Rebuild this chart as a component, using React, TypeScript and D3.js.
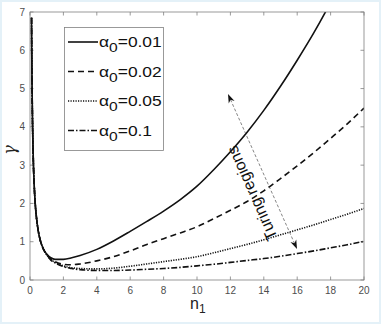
import React from 'react';
import * as d3 from 'd3';

// n1 sample points shared by all curves
const nValues = [0.09, 0.1, 0.12, 0.15, 0.2, 0.25, 0.3, 0.4, 0.5, 0.6, 0.8, 1, 1.25, 1.5, 2, 2.5, 3, 4, 5, 6, 7, 8, 9, 10, 11, 12, 13, 14, 15, 16, 17, 18, 19, 20];

// gamma for each alpha_0
const gamma001 = [6.85, 6.2, 5.2, 4.15, 3.1, 2.5, 2.08, 1.58, 1.27, 1.06, 0.81, 0.68, 0.58, 0.54, 0.54, 0.58, 0.64, 0.8, 1.02, 1.27, 1.53, 1.8, 2.1, 2.45, 2.88, 3.35, 3.86, 4.43, 5.06, 5.74, 6.46, 7.25, 8.1, 9.0];
const gamma002 = [6.85, 6.2, 5.2, 4.15, 3.1, 2.5, 2.08, 1.58, 1.27, 1.06, 0.81, 0.67, 0.55, 0.48, 0.41, 0.4, 0.42, 0.5, 0.61, 0.76, 0.93, 1.08, 1.23, 1.39, 1.6, 1.82, 2.05, 2.33, 2.65, 2.98, 3.33, 3.7, 4.08, 4.49];
const gamma005 = [6.85, 6.2, 5.2, 4.15, 3.1, 2.5, 2.08, 1.58, 1.27, 1.06, 0.81, 0.66, 0.53, 0.46, 0.37, 0.32, 0.3, 0.29, 0.31, 0.36, 0.42, 0.48, 0.54, 0.61, 0.71, 0.82, 0.93, 1.05, 1.18, 1.31, 1.44, 1.58, 1.72, 1.87];
const gamma01 = [6.85, 6.2, 5.2, 4.15, 3.1, 2.5, 2.08, 1.58, 1.27, 1.06, 0.81, 0.66, 0.52, 0.45, 0.35, 0.3, 0.27, 0.25, 0.25, 0.26, 0.28, 0.3, 0.33, 0.37, 0.41, 0.46, 0.51, 0.56, 0.62, 0.69, 0.76, 0.84, 0.92, 1.01];

const alphaLabels = ['0.01', '0.02', '0.05', '0.1'];
const dashes = ['', '6,4', '1.2,1.3', '6,2,1.5,2'];
const xTicks = [0, 2, 4, 6, 8, 10, 12, 14, 16, 18, 20];
const yTicks = [0, 1, 2, 3, 4, 5, 6, 7];

const W = 381;
const H = 324;
const margin = { top: 12, right: 17, bottom: 44, left: 30 };

export default function App() {
  const x = d3.scaleLinear().domain([0, 20]).range([margin.left, W - margin.right]);
  const y = d3.scaleLinear().domain([0, 7]).range([H - margin.bottom, margin.top]);
  const line = d3.line<number>()
    .x((_, i) => x(nValues[i]))
    .y(d => y(d))
    .curve(d3.curveMonotoneX);

  const series = [gamma001, gamma002, gamma005, gamma01];
  const x0 = x(0), x1 = x(20), y0 = y(0), y1 = y(7);
  const axisColor = '#808080';
  const font = 'Liberation Sans, Arial, Helvetica, sans-serif';

  // arrow for "Turing regions"
  const aTop: [number, number] = [228, 94];
  const aBot: [number, number] = [297, 249];
  const ang = Math.atan2(aBot[1] - aTop[1], aBot[0] - aTop[0]);
  const head = (p: [number, number], dir: number) => {
    const l = 9, w = 3.2;
    const ux = Math.cos(dir), uy = Math.sin(dir);
    const bx = p[0] - ux * l, by = p[1] - uy * l;
    return `M${p[0]},${p[1]} L${bx - uy * w},${by + ux * w} L${p[0] - ux * l * 0.7},${p[1] - uy * l * 0.7} L${bx + uy * w},${by - ux * w} Z`;
  };

  return (
    <svg width={W} height={H} style={{ position: 'absolute', left: 0, top: 0, background: '#fff' }} fontFamily={font}>
      <rect x={1} y={1} width={W - 2} height={H - 2} fill="none" stroke="#e4f1f8" strokeWidth={2} />
      <defs>
        <clipPath id="plot">
          <rect x={x0} y={y1} width={x1 - x0} height={y0 - y1} />
        </clipPath>
      </defs>

      {/* ticks on all four sides */}
      {xTicks.map(t => (
        <g key={'x' + t}>
          <line x1={x(t)} x2={x(t)} y1={y0} y2={y0 - 3.5} stroke={axisColor} strokeWidth={0.8} />
          <line x1={x(t)} x2={x(t)} y1={y1} y2={y1 + 3.5} stroke={axisColor} strokeWidth={0.8} />
          <text x={x(t)} y={y0 + 14} textAnchor="middle" fontSize={10} fill="#4d4d4d">{t}</text>
        </g>
      ))}
      {yTicks.map(t => (
        <g key={'y' + t}>
          <line x1={x0} x2={x0 + 3.5} y1={y(t)} y2={y(t)} stroke={axisColor} strokeWidth={0.8} />
          <line x1={x1} x2={x1 - 3.5} y1={y(t)} y2={y(t)} stroke={axisColor} strokeWidth={0.8} />
          <text x={x0 - 5} y={y(t) + 3.5} textAnchor="end" fontSize={10} fill="#4d4d4d">{t}</text>
        </g>
      ))}

      {/* curves */}
      <g clipPath="url(#plot)">
        {series.map((s, i) => (
          <path key={i} d={line(s) || ''} fill="none" stroke="#111" strokeWidth={1.6} strokeDasharray={dashes[i]} />
        ))}
      </g>

      <rect x={x0} y={y1} width={x1 - x0} height={y0 - y1} fill="none" stroke={axisColor} strokeWidth={0.8} />

      {/* legend */}
      <rect x={64.5} y={27.5} width={99} height={123} fill="#fff" stroke={axisColor} strokeWidth={0.8} />
      {alphaLabels.map((a, i) => {
        const ly = 42 + i * 29.5;
        return (
          <g key={a}>
            <line x1={68} x2={98} y1={ly} y2={ly} stroke="#111" strokeWidth={1.6} strokeDasharray={dashes[i]} />
            <text transform={`translate(99,${ly + 5}) scale(1.2,1)`} fontSize={14.5} fill="#111">
              <tspan>α</tspan>
              <tspan dy={5} fontSize={13}>0</tspan>
              <tspan dy={-5}>={a}</tspan>
            </text>
          </g>
        );
      })}

      {/* Turing regions arrow */}
      <line x1={aTop[0] + Math.cos(ang) * 6} y1={aTop[1] + Math.sin(ang) * 6} x2={aBot[0] - Math.cos(ang) * 6} y2={aBot[1] - Math.sin(ang) * 6}
        stroke="#333" strokeWidth={0.6} strokeDasharray="3,2" />
      <path d={head(aTop, ang + Math.PI)} fill="#111" />
      <path d={head(aBot, ang)} fill="#111" />
      <text transform={`translate(257,191) rotate(-114)`} textAnchor="middle" fontSize={16} fill="#111">Turing regions</text>

      {/* axis labels */}
      <text x={190} y={309} fontSize={16} fill="#222">n<tspan dy={4} fontSize={12}>1</tspan></text>
      <text transform={`translate(15,150) rotate(-90)`} textAnchor="middle" fontSize={16} fontStyle="italic" fill="#222" fontFamily="DejaVu Serif, serif">γ</text>
    </svg>
  );
}
